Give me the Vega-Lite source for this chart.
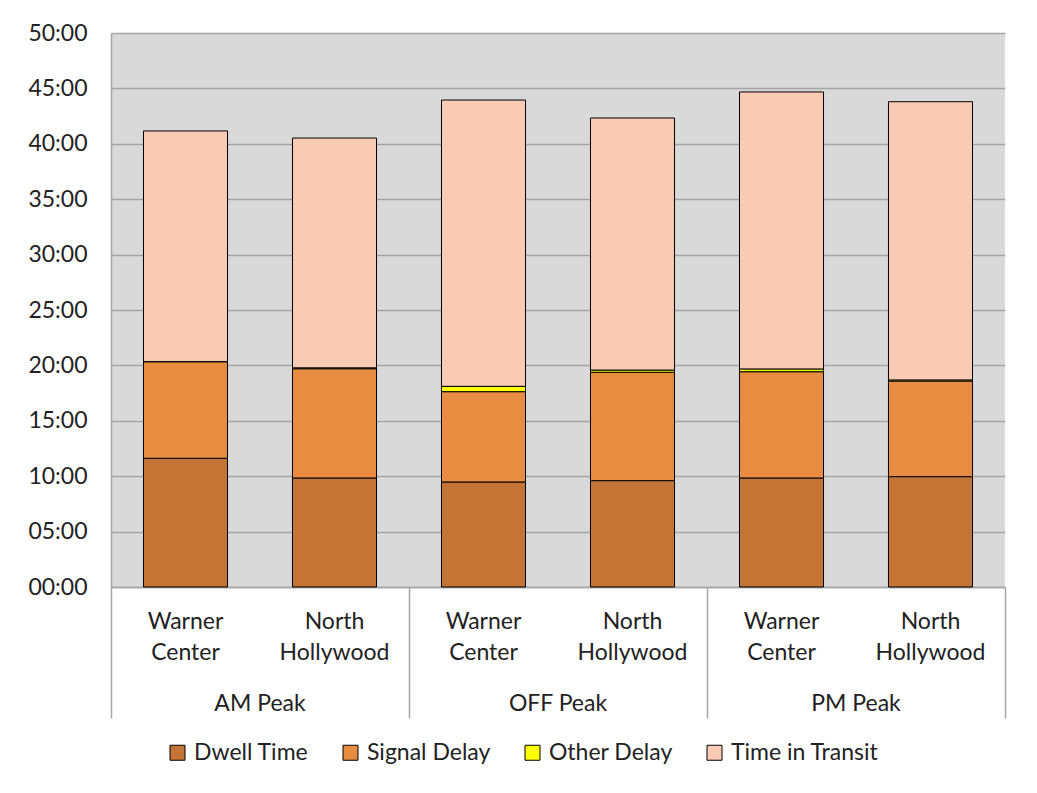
{
  "$schema": "https://vega.github.io/schema/vega-lite/v6.json",
  "width": 894,
  "height": 554,
  "autosize": {"type": "none"},
  "padding": {"left": 111, "top": 33, "right": 32, "bottom": 206},
  "background": "white",
  "config": {
    "font": "Lato",
    "view": {"fill": "#d9d9d9", "stroke": null},
    "axis": {"labelFont": "Lato", "labelColor": "#222222", "title": null}
  },
  "data": {
    "values": [
      {"key": "AM Peak|Warner Center", "component": "Dwell Time", "order": 1, "minutes": 11.62},
      {"key": "AM Peak|Warner Center", "component": "Signal Delay", "order": 2, "minutes": 8.71},
      {"key": "AM Peak|Warner Center", "component": "Other Delay", "order": 3, "minutes": 0.02},
      {"key": "AM Peak|Warner Center", "component": "Time in Transit", "order": 4, "minutes": 20.81},
      {"key": "AM Peak|North Hollywood", "component": "Dwell Time", "order": 1, "minutes": 9.84},
      {"key": "AM Peak|North Hollywood", "component": "Signal Delay", "order": 2, "minutes": 9.86},
      {"key": "AM Peak|North Hollywood", "component": "Other Delay", "order": 3, "minutes": 0.08},
      {"key": "AM Peak|North Hollywood", "component": "Time in Transit", "order": 4, "minutes": 20.74},
      {"key": "OFF Peak|Warner Center", "component": "Dwell Time", "order": 1, "minutes": 9.48},
      {"key": "OFF Peak|Warner Center", "component": "Signal Delay", "order": 2, "minutes": 8.15},
      {"key": "OFF Peak|Warner Center", "component": "Other Delay", "order": 3, "minutes": 0.48},
      {"key": "OFF Peak|Warner Center", "component": "Time in Transit", "order": 4, "minutes": 25.84},
      {"key": "OFF Peak|North Hollywood", "component": "Dwell Time", "order": 1, "minutes": 9.6},
      {"key": "OFF Peak|North Hollywood", "component": "Signal Delay", "order": 2, "minutes": 9.78},
      {"key": "OFF Peak|North Hollywood", "component": "Other Delay", "order": 3, "minutes": 0.2},
      {"key": "OFF Peak|North Hollywood", "component": "Time in Transit", "order": 4, "minutes": 22.75},
      {"key": "PM Peak|Warner Center", "component": "Dwell Time", "order": 1, "minutes": 9.84},
      {"key": "PM Peak|Warner Center", "component": "Signal Delay", "order": 2, "minutes": 9.59},
      {"key": "PM Peak|Warner Center", "component": "Other Delay", "order": 3, "minutes": 0.25},
      {"key": "PM Peak|Warner Center", "component": "Time in Transit", "order": 4, "minutes": 25.0},
      {"key": "PM Peak|North Hollywood", "component": "Dwell Time", "order": 1, "minutes": 9.96},
      {"key": "PM Peak|North Hollywood", "component": "Signal Delay", "order": 2, "minutes": 8.63},
      {"key": "PM Peak|North Hollywood", "component": "Other Delay", "order": 3, "minutes": 0.1},
      {"key": "PM Peak|North Hollywood", "component": "Time in Transit", "order": 4, "minutes": 25.11}
    ]
  },
  "layer": [
    {
      "mark": {"type": "bar", "width": {"band": 0.564}, "stroke": "black", "strokeWidth": 1},
      "encoding": {
        "x": {
          "field": "key",
          "type": "nominal",
          "sort": ["AM Peak|Warner Center", "AM Peak|North Hollywood", "OFF Peak|Warner Center", "OFF Peak|North Hollywood", "PM Peak|Warner Center", "PM Peak|North Hollywood"],
          "scale": {"paddingInner": 0, "paddingOuter": 0},
          "axis": {
            "orient": "bottom",
            "title": null,
            "bandPosition": 0,
            "ticks": true,
            "tickSize": 131,
            "tickColor": "#a6a6a6",
            "tickWidth": 1.5,
            "tickOpacity": {"condition": {"test": "indexof(datum.value,'Warner')>=0", "value": 1}, "value": 0},
            "labelExpr": "split(split(datum.value,'|')[1],' ')",
            "labelFontSize": 23,
            "labelLineHeight": 31,
            "labelBaseline": "top",
            "labelPadding": -108,
            "labelAngle": 0,
            "labelOverlap": false,
            "domainColor": "#a6a6a6",
            "domainWidth": 1.5,
            "grid": false
          }
        },
        "y": {
          "field": "minutes",
          "type": "quantitative",
          "stack": "zero",
          "scale": {"domain": [0, 50], "nice": false},
          "axis": {
            "title": null,
            "values": [0, 5, 10, 15, 20, 25, 30, 35, 40, 45, 50],
            "labelExpr": "format(datum.value,'02d') + ':00'",
            "labelFontSize": 23,
            "labelPadding": 24,
            "ticks": false,
            "grid": true,
            "gridColor": "#a6a6a6",
            "gridWidth": 1.5,
            "domainColor": "#a6a6a6",
            "domainWidth": 1.5
          }
        },
        "color": {
          "field": "component",
          "type": "nominal",
          "scale": {
            "domain": ["Dwell Time", "Signal Delay", "Other Delay", "Time in Transit"],
            "range": ["#C47535", "#E88C41", "#FFFF00", "#F9CBB4"]
          },
          "legend": {
            "title": null,
            "orient": "none",
            "legendX": 55,
            "legendY": 708,
            "direction": "horizontal",
            "symbolType": "square",
            "symbolSize": 225,
            "symbolStrokeColor": "black",
            "symbolStrokeWidth": 1,
            "labelFont": "Lato",
            "labelFontSize": 23,
            "labelColor": "#222222",
            "labelOffset": 5,
            "columnPadding": 30
          }
        },
        "order": {"field": "order", "type": "quantitative"}
      }
    },
    {
      "mark": {"type": "bar", "opacity": 0},
      "encoding": {
        "x": {
          "field": "key",
          "type": "nominal",
          "sort": ["AM Peak|Warner Center", "AM Peak|North Hollywood", "OFF Peak|Warner Center", "OFF Peak|North Hollywood", "PM Peak|Warner Center", "PM Peak|North Hollywood"],
          "axis": {
            "orient": "bottom",
            "title": null,
            "bandPosition": 1,
            "ticks": true,
            "tickSize": 131,
            "tickColor": "#a6a6a6",
            "tickWidth": 1.5,
            "tickOpacity": {"condition": {"test": "datum.value == 'PM Peak|North Hollywood'", "value": 1}, "value": 0},
            "labelExpr": "indexof(datum.value,'Warner')>=0 ? split(datum.value,'|')[0] : ''",
            "labelFontSize": 23,
            "labelBaseline": "top",
            "labelPadding": -26,
            "labelOffset": 74.5,
            "labelAngle": 0,
            "labelOverlap": false,
            "domain": false,
            "grid": false
          }
        }
      }
    }
  ],
  "resolve": {"axis": {"x": "independent"}}
}
